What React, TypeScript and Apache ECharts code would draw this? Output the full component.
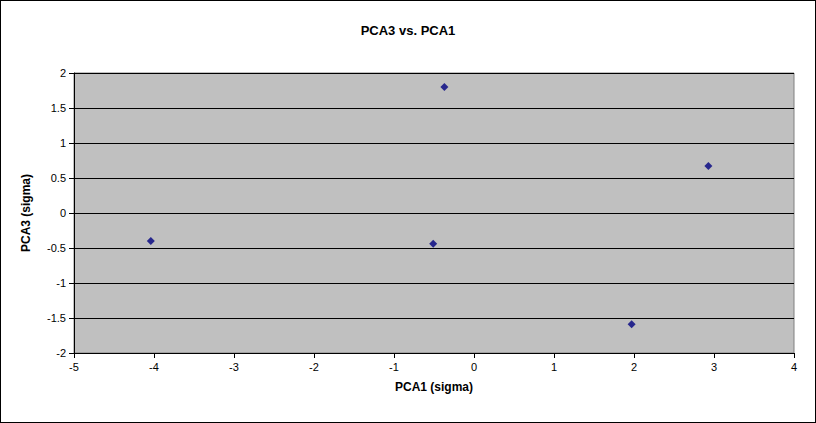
import React, { useEffect, useRef } from 'react';
import * as echarts from 'echarts';

const pca1 = [-4.04, -0.37, -0.51, 2.93, 1.97];
const pca3 = [-0.40, 1.80, -0.44, 0.67, -1.59];

const App = () => {
    const chartRef = useRef<HTMLDivElement>(null);

    useEffect(() => {
        document.body.style.margin = '0';
        if (!chartRef.current) return;
        const myChart = echarts.init(chartRef.current, undefined, { renderer: 'svg' });
        const font = 'Liberation Sans, Arial, sans-serif';
        myChart.setOption({
            animation: false,
            backgroundColor: '#ffffff',
            title: {
                text: 'PCA3 vs. PCA1',
                left: 'center',
                top: 18,
                textStyle: { fontFamily: font, fontSize: 13, fontWeight: 'bold', color: '#000' }
            },
            grid: { left: 73, right: 21, top: 72, bottom: 69, show: true, backgroundColor: '#c0c0c0', borderColor: '#808080', borderWidth: 1 },
            xAxis: {
                type: 'value', min: -5, max: 4, interval: 1,
                name: 'PCA1 (sigma)', nameLocation: 'middle', nameGap: 28,
                nameTextStyle: { fontFamily: font, fontSize: 12, fontWeight: 'bold', color: '#000' },
                axisLine: { onZero: false, lineStyle: { color: '#000' } },
                axisTick: { show: true, length: 5, lineStyle: { color: '#000' } },
                axisLabel: { fontFamily: font, fontSize: 11, color: '#000', margin: 8 },
                splitLine: { show: false }
            },
            yAxis: {
                type: 'value', min: -2, max: 2, interval: 0.5,
                name: 'PCA3 (sigma)', nameLocation: 'middle', nameGap: 42,
                nameTextStyle: { fontFamily: font, fontSize: 12, fontWeight: 'bold', color: '#000' },
                axisLine: { show: true, onZero: false, lineStyle: { color: '#000' } },
                axisTick: { show: true, length: 5, lineStyle: { color: '#000' } },
                axisLabel: { fontFamily: font, fontSize: 11, color: '#000', margin: 8 },
                splitLine: { show: true, lineStyle: { color: '#000', width: 1 } }
            },
            series: [{
                type: 'scatter',
                symbol: 'diamond',
                symbolSize: 8,
                itemStyle: { color: '#000080' },
                data: pca1.map((x, i) => [x, pca3[i]])
            }]
        });
        return () => {
            myChart.dispose();
        };
    }, []);

    return <div ref={chartRef} style={{ width: '816px', height: '423px', border: '1px solid #000', boxSizing: 'border-box' }} />;
};

export default App;
